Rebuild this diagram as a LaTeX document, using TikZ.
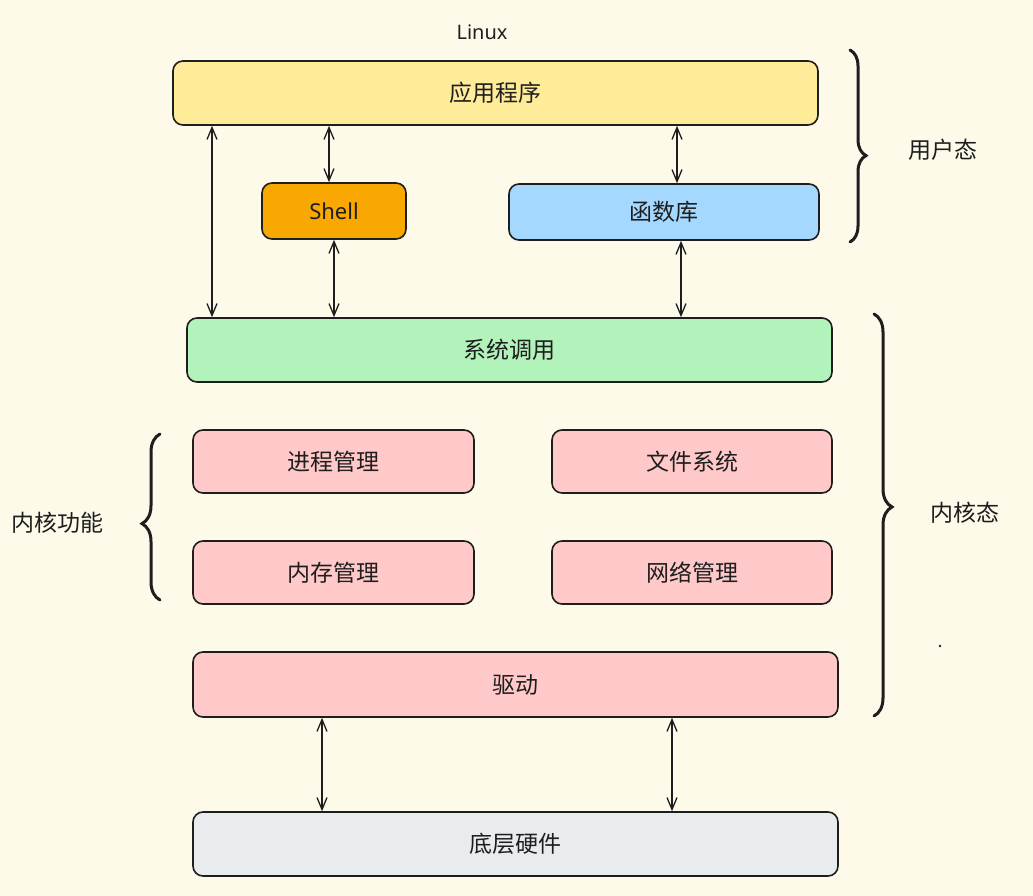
\documentclass[tikz,border=0pt]{standalone}
\usepackage{fontspec}
\setmainfont{Noto Sans}
\newfontfamily\cjk{Noto Sans CJK SC}
\usetikzlibrary{arrows.meta,decorations.pathreplacing}
\definecolor{bgc}{HTML}{FEFAEA}
\definecolor{appc}{HTML}{FFEC99}
\definecolor{shellc}{HTML}{F8A800}
\definecolor{libc}{HTML}{A5D8FF}
\definecolor{sysc}{HTML}{B2F2BB}
\definecolor{kerc}{HTML}{FFC9C9}
\definecolor{hwc}{HTML}{E9ECEF}
\definecolor{ink}{HTML}{1E1E1E}
\tikzset{
  box/.style={draw=ink, line width=1.6pt, rounded corners=10pt, font=\cjk\fontsize{23}{27}\selectfont, text=ink},
  arr/.style={draw=ink, line width=1.3pt, {Straight Barb[length=12pt,width=10pt]}-{Straight Barb[length=12pt,width=10pt]}},
  brc/.style={draw=ink, line width=3pt, line cap=round, decorate},
  lbl/.style={font=\cjk\fontsize{23}{27}\selectfont, text=ink}
}
\begin{document}
\begin{tikzpicture}[x=1pt,y=-1pt]
\fill[bgc] (0,0) rectangle (1033,896);
\useasboundingbox (0,0) rectangle (1033,896);
\node[font=\fontsize{20}{24}\selectfont, text=ink] (title) at (482,32) {Linux};
\node[box, fill=appc, minimum width=645pt, minimum height=64pt] (app) at (495.5,93) {应用程序};
\node[box, fill=shellc, minimum width=144pt, minimum height=56pt, font=\fontsize{22}{26}\selectfont] (shell) at (334,211) {Shell};
\node[box, fill=libc, minimum width=310pt, minimum height=56pt] (lib) at (664,212) {函数库};
\node[box, fill=sysc, minimum width=645pt, minimum height=64pt] (sys) at (509.5,350) {系统调用};
\node[box, fill=kerc, minimum width=281pt, minimum height=63pt] (proc) at (333.5,461.5) {进程管理};
\node[box, fill=kerc, minimum width=280pt, minimum height=63pt] (file) at (692,461.5) {文件系统};
\node[box, fill=kerc, minimum width=281pt, minimum height=63pt] (mem) at (333.5,572.5) {内存管理};
\node[box, fill=kerc, minimum width=280pt, minimum height=63pt] (net) at (692,572.5) {网络管理};
\node[box, fill=kerc, minimum width=645pt, minimum height=65pt] (drv) at (515.5,684.5) {驱动};
\node[box, fill=hwc, minimum width=645pt, minimum height=64pt] (hw) at (515.5,844) {底层硬件};
% arrows
\draw[arr] ([xshift=-283.5pt]app.south) -- ([xshift=-297.5pt]sys.north);
\draw[arr] ([xshift=-166.5pt]app.south) -- ([xshift=-5pt]shell.north);
\draw[arr] (shell.south) -- ([xshift=-175.5pt]sys.north);
\draw[arr] ([xshift=181.5pt]app.south) -- ([xshift=13pt]lib.north);
\draw[arr] ([xshift=17pt]lib.south) -- ([xshift=171.5pt]sys.north);
\draw[arr] ([xshift=-193.5pt]drv.south) -- ([xshift=-193.5pt]hw.north);
\draw[arr] ([xshift=156.5pt]drv.south) -- ([xshift=156.5pt]hw.north);
% braces
\draw[brc, decoration={brace, amplitude=16pt, aspect=0.55}] (850,50) -- (850,242);
\draw[brc, decoration={brace, amplitude=18pt, aspect=0.48}] (874,314) -- (874,716);
\draw[brc, decoration={brace, amplitude=18pt, aspect=0.46}] (160,600) -- (160,434);
% labels
\node[lbl] (user) at (943,150) {用户态};
\node[lbl] (kern) at (965,513) {内核态};
\node[lbl] (kfun) at (58,523) {内核功能};
\fill[ink] (940,646) circle (1.3pt);
\end{tikzpicture}
\end{document}
